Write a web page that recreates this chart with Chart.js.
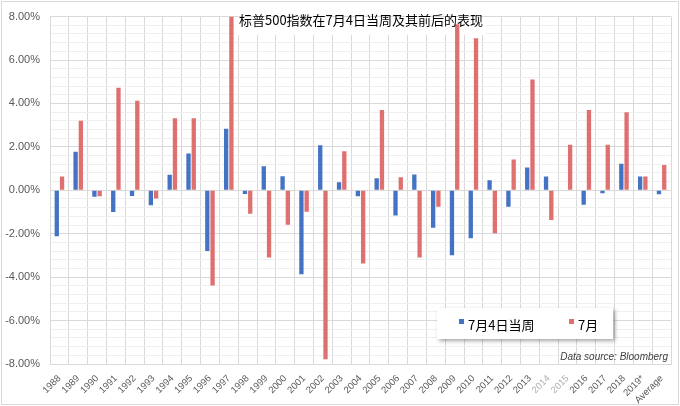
<!DOCTYPE html>
<html>
<head>
<meta charset="utf-8">
<script src="https://cdn.jsdelivr.net/npm/chart.js@4"></script>
<style>
  html, body { margin: 0; padding: 0; background: #fff; }
  #wrap { width: 680px; height: 406px; position: relative; }
</style>
</head>
<body>
<div id="wrap"><canvas id="chart" width="680" height="406"></canvas></div>
<script>
// values in percent
const years = ["1988", "1989", "1990", "1991", "1992", "1993", "1994", "1995", "1996", "1997",
  "1998", "1999", "2000", "2001", "2002", "2003", "2004", "2005", "2006", "2007",
  "2008", "2009", "2010", "2011", "2012", "2013", "2014", "2015", "2016", "2017",
  "2018", "2019*", "Average"];
const july4Week = [-2.12, 1.77, -0.3, -1.0, -0.26, -0.69, 0.72, 1.69, -2.79, 2.83,
  -0.17, 1.11, 0.65, -3.87, 2.07, 0.37, -0.27, 0.56, -1.16, 0.73,
  -1.72, -2.99, -2.21, 0.46, -0.76, 1.05, 0.64, 0, -0.67, -0.14,
  1.22, 0.64, -0.18];
const julyMonth = [0.64, 3.2, -0.27, 4.72, 4.13, -0.38, 3.32, 3.32, -4.39, 8.0,
  -1.08, -3.09, -1.59, -0.99, -7.78, 1.8, -3.37, 3.7, 0.6, -3.09,
  -0.76, 7.65, 7.0, -1.98, 1.42, 5.1, -1.37, 2.1, 3.7, 2.1,
  3.6, 0.64, 1.16];
const seriesNames = ["7月4日当周", "7月"];
const yTicks = [-8, -6, -4, -2, 0, 2, 4, 6, 8];
const fadedYears = ["2014", "2015"];

const titleText = "标普500指数在7月4日当周及其前后的表现";
const sourceText = "Data source: Bloomberg";

const isMajor = v => yTicks.some(t => Math.abs(t - v) < 1e-6);

const decorations = {
  id: "decorations",
  beforeDraw(chart) {
    const ctx = chart.ctx;
    ctx.save();
    ctx.fillStyle = "#fff";
    ctx.fillRect(0, 0, chart.width, chart.height);
    ctx.strokeStyle = "#d9d9d9";
    ctx.lineWidth = 1;
    ctx.strokeRect(1.5, 1.5, chart.width - 3, chart.height - 3);
    ctx.restore();
  },
  beforeDatasetsDraw(chart) {
    // title sits on a white box over the grid
    const ctx = chart.ctx;
    ctx.save();
    ctx.font = '13px "Noto Sans CJK SC", sans-serif';
    const w = ctx.measureText(titleText).width;
    ctx.fillStyle = "#fff";
    ctx.fillRect(361 - w / 2 - 3, chart.chartArea.top + 0.5, w + 6, 18);
    ctx.restore();
  },
  afterDatasetsDraw(chart) {
    const ctx = chart.ctx;
    ctx.save();
    ctx.font = '13px "Noto Sans CJK SC", sans-serif';
    ctx.fillStyle = "#000";
    ctx.textAlign = "center";
    ctx.textBaseline = "middle";
    ctx.fillText(titleText, 361, 20);

    // legend box
    const lx = 437, ly = 308, lw = 176, lh = 31;
    ctx.save();
    ctx.shadowColor = "rgba(0,0,0,0.35)";
    ctx.shadowBlur = 4;
    ctx.shadowOffsetX = 2;
    ctx.shadowOffsetY = 2;
    ctx.fillStyle = "#fff";
    ctx.fillRect(lx, ly, lw, lh);
    ctx.restore();
    const items = chart.data.datasets.map(d => ({ text: d.label, color: d.backgroundColor }));
    const xs = [459, 569];
    ctx.textAlign = "left";
    items.forEach((it, i) => {
      ctx.fillStyle = it.color;
      ctx.fillRect(xs[i], 319, 5, 5);
      ctx.fillStyle = "#000";
      ctx.fillText(it.text, xs[i] + 9, 325);
    });

    ctx.font = 'italic 10px "Liberation Sans", sans-serif';
    ctx.fillStyle = "#404040";
    ctx.textAlign = "right";
    ctx.fillText(sourceText, 668, 357);
    ctx.restore();
  }
};

new Chart(document.getElementById("chart"), {
  type: "bar",
  data: {
    labels: years,
    datasets: [
      { label: seriesNames[0], data: july4Week, backgroundColor: "#4472C4" },
      { label: seriesNames[1], data: julyMonth, backgroundColor: "#DF7070" }
    ]
  },
  options: {
    responsive: false,
    animation: false,
    layout: { padding: { left: 0, right: 9, top: 14, bottom: 0 } },
    datasets: { bar: { categoryPercentage: 0.56, barPercentage: 0.82 } },
    plugins: {
      legend: { display: false },
      title: { display: false },
      tooltip: { enabled: false }
    },
    scales: {
      x: {
        grid: { color: "#d9d9d9", offset: true, drawTicks: false },
        border: { color: "#d9d9d9" },
        ticks: {
          autoSkip: false,
          minRotation: 45,
          maxRotation: 45,
          padding: 9,
          font: { family: "Liberation Sans", size: 9.5 },
          color: ctx => fadedYears.includes(years[ctx.index]) ? "#b0b0b0" : "#595959"
        },
        afterFit(scale) { scale.height = 42; }
      },
      y: {
        min: -8,
        max: 8,
        grid: {
          color: ctx => isMajor(ctx.tick.value) ? "#d9d9d9" : "#efefef",
          drawTicks: false
        },
        border: { color: "#d9d9d9" },
        ticks: {
          stepSize: 0.4,
          autoSkip: false,
          padding: 10,
          font: { family: "Liberation Sans", size: 11 },
          color: "#595959",
          callback: v => isMajor(v) ? Math.round(v).toFixed(2) + "%" : ""
        },
        afterFit(scale) { scale.width = 50; }
      }
    }
  },
  plugins: [decorations]
});
</script>
</body>
</html>
